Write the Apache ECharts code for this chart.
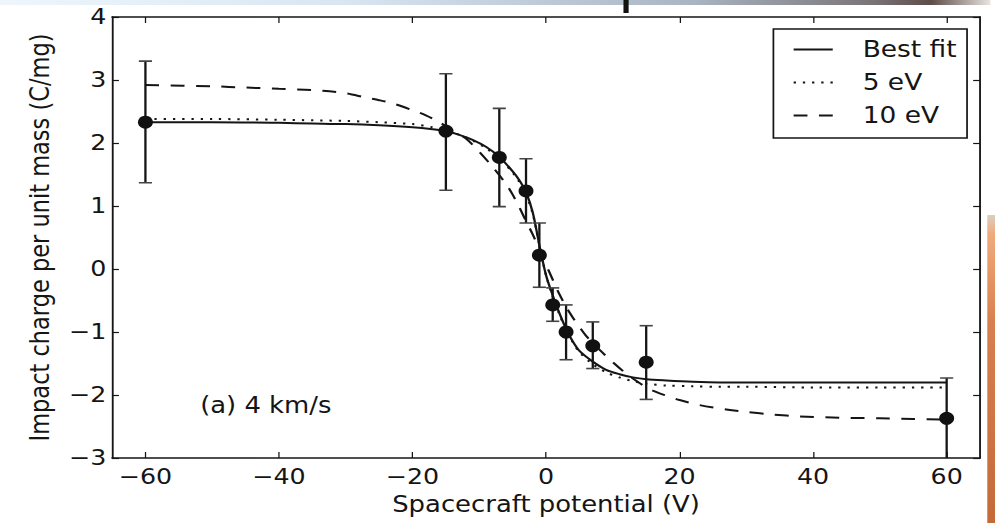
<!DOCTYPE html>
<html><head><meta charset="utf-8">
<script src="https://cdn.jsdelivr.net/npm/echarts@6/dist/echarts.min.js"></script>
<style>
html,body{margin:0;padding:0;background:#fff;overflow:hidden}
#wrap{width:995px;height:523px;overflow:hidden}
#c{width:865px;height:523px;transform:scaleX(1.15029);transform-origin:0 0}
</style>
</head><body><div id="wrap"><div id="c"></div></div>
<script>
// tick labels
const xTicks = [-60, -40, -20, 0, 20, 40, 60];
const yTicks = [-3, -2, -1, 0, 1, 2, 3, 4];
// measured points with error bars
const pointX = [-60, -15, -7, -3, -1, 1, 3, 7, 15, 60];
const pointY = [2.33, 2.19, 1.77, 1.24, 0.22, -0.57, -1.0, -1.22, -1.48, -2.37];
const errLow = [1.37, 1.25, 0.99, 0.73, -0.29, -0.83, -1.44, -1.58, -2.07, -3.3];
const errHigh = [3.30, 3.10, 2.55, 1.75, 0.73, -0.30, -0.57, -0.84, -0.90, -1.73];
// Best fit curve
const fitX = [-60,-50,-40,-35,-30,-25,-20,-17,-15,-13,-11,-9,-7,-5,-4,-3,-2,-1,0,1,2,3,4,5,7,9,11,13,15,18,22,26,30,40,50,60];
const fitY = [2.33,2.33,2.32,2.31,2.30,2.28,2.25,2.22,2.19,2.13,2.05,1.94,1.78,1.55,1.41,1.22,0.90,0.38,-0.10,-0.42,-0.70,-0.95,-1.15,-1.30,-1.47,-1.60,-1.67,-1.72,-1.75,-1.77,-1.79,-1.80,-1.80,-1.80,-1.80,-1.80];
// 5 eV curve
const ev5X = [-60,-50,-40,-35,-30,-25,-20,-17,-15,-13,-11,-9,-7,-5,-4,-3,-2,-1,0,1,2,3,4,5,7,9,11,13,15,18,22,26,30,40,50,60];
const ev5Y = [2.38,2.38,2.37,2.36,2.35,2.33,2.30,2.25,2.20,2.13,2.04,1.92,1.76,1.53,1.38,1.18,0.88,0.38,-0.10,-0.43,-0.72,-0.96,-1.16,-1.32,-1.51,-1.64,-1.72,-1.78,-1.82,-1.85,-1.86,-1.87,-1.87,-1.88,-1.88,-1.88];
// 10 eV curve
const ev10X = [-60,-50,-45,-40,-35,-30,-27,-25,-23,-20,-18,-16,-14,-12,-10,-8,-6,-5,-4,-3,-2,-1,0,1,2,3,4,5,6,8,10,12,14,16,18,20,23,27,30,34,38,44,50,55,60];
const ev10Y = [2.92,2.90,2.88,2.86,2.84,2.79,2.72,2.68,2.63,2.52,2.44,2.33,2.20,2.07,1.86,1.62,1.35,1.18,0.98,0.76,0.55,0.31,0.07,-0.17,-0.40,-0.60,-0.77,-0.92,-1.06,-1.28,-1.48,-1.66,-1.81,-1.93,-2.01,-2.08,-2.16,-2.23,-2.27,-2.31,-2.34,-2.36,-2.37,-2.38,-2.39];

const FONT = 'DejaVu Sans';
const INK = '#151515';
const minus = v => String(v).replace('-', '\u2212');
const zip = (a, b) => a.map((v, i) => [v, b[i]]);

const chart = echarts.init(document.getElementById('c'), null, {renderer: 'svg'});

const baseX = {
  type: 'value', min: -65, max: 65,
  axisLine: {show: true, onZero: false, lineStyle: {color: INK, width: 1.6}},
  axisTick: {show: true, inside: true, length: 6, customValues: xTicks, lineStyle: {color: INK, width: 1.1}},
  splitLine: {show: false}
};
const baseY = {
  type: 'value', min: -3, max: 4, interval: 1,
  axisLine: {show: true, onZero: false, lineStyle: {color: INK, width: 1.6}},
  axisTick: {show: true, inside: true, length: 6, lineStyle: {color: INK, width: 1.2}},
  splitLine: {show: false}
};

chart.setOption({
  animation: false,
  backgroundColor: '#ffffff',
  textStyle: {fontFamily: FONT},
  grid: {left: 97.4, right: 13, top: 17, bottom: 65},
  xAxis: [
    Object.assign({}, baseX, {
      position: 'bottom',
      name: 'Spacecraft potential (V)', nameLocation: 'middle', nameGap: 35,
      nameTextStyle: {fontFamily: FONT, fontSize: 22.5, color: INK},
      axisLabel: {show: true, customValues: xTicks, formatter: minus, margin: 8,
        fontFamily: FONT, fontSize: 22, color: INK}
    }),
    Object.assign({}, baseX, {position: 'top', axisLabel: {show: false}})
  ],
  yAxis: [
    Object.assign({}, baseY, {
      position: 'left',
      name: 'Impact charge per unit mass (C/mg)', nameLocation: 'middle', nameGap: 51,
      nameTextStyle: {fontFamily: FONT, fontSize: 22.5, color: INK},
      axisLabel: {show: true, formatter: minus, margin: 5,
        fontFamily: FONT, fontSize: 22, color: INK}
    }),
    Object.assign({}, baseY, {position: 'right', axisLabel: {show: false}})
  ],
  legend: {
    orient: 'vertical', right: 24.3, top: 29,
    data: ['Best fit', '5 eV', '10 eV'],
    itemWidth: 34, itemHeight: 14, itemGap: 10,
    padding: [9, 9, 11, 16.6],
    borderColor: INK, borderWidth: 1.5, borderRadius: 0,
    backgroundColor: '#fff',
    itemStyle: {color: 'transparent', borderWidth: 0, opacity: 0},
    textStyle: {fontFamily: FONT, fontSize: 23, color: INK, padding: [0, 0, 0, 21]}
  },
  graphic: [
    {type: 'text', left: 174, top: 394, style: {text: '(a) 4 km/s', font: '22.5px "DejaVu Sans"', fill: INK}},
    {type: 'rect', shape: {x: 0, y: 0, width: 861, height: 5}, silent: true,
      style: {fill: new echarts.graphic.LinearGradient(0, 0, 1, 0, [
        {offset: 0, color: '#eef6fc'}, {offset: 0.35, color: '#d8e6f2'},
        {offset: 0.7, color: '#a9b5c2'}, {offset: 0.88, color: '#7a7478'},
        {offset: 0.94, color: '#5d4c48'}, {offset: 1, color: '#e8e4e0'}])}},
    {type: 'rect', shape: {x: 542, y: 0, width: 4.5, height: 13}, silent: true, style: {fill: '#111'}},
    {type: 'rect', shape: {x: 858.3, y: 215, width: 7, height: 308}, silent: true,
      style: {fill: new echarts.graphic.LinearGradient(0, 0, 0, 1, [
        {offset: 0, color: '#d9d0c2'}, {offset: 0.06, color: '#f0aa7c'},
        {offset: 0.35, color: '#d8804c'}, {offset: 1, color: '#c46a3a'}])}}
  ],
  series: [
    {name: 'Best fit', type: 'line', data: zip(fitX, fitY), smooth: 0.3, symbol: 'none',
      lineStyle: {color: INK, width: 2}, itemStyle: {color: INK}, z: 2},
    {name: '5 eV', type: 'line', data: zip(ev5X, ev5Y), smooth: 0.3, symbol: 'none',
      lineStyle: {color: INK, width: 2, type: [2, 6]}, itemStyle: {color: INK}, z: 2},
    {name: '10 eV', type: 'line', data: zip(ev10X, ev10Y), smooth: 0.3, symbol: 'none',
      lineStyle: {color: INK, width: 2, type: [12, 10]}, itemStyle: {color: INK}, z: 2},
    {name: 'err', type: 'custom', clip: true, z: 3,
      data: pointX.map((x, i) => [x, errLow[i], errHigh[i]]),
      encode: {x: 0, y: [1, 2]},
      renderItem: function (params, api) {
        const x = api.value(0);
        const p1 = api.coord([x, api.value(1)]);
        const p2 = api.coord([x, api.value(2)]);
        const cw = 5.7;
        return {type: 'group', children: [
          {type: 'line', shape: {x1: p1[0], y1: p1[1], x2: p2[0], y2: p2[1]}, style: {stroke: INK, lineWidth: 2}},
          {type: 'line', shape: {x1: p1[0] - cw, y1: p1[1], x2: p1[0] + cw, y2: p1[1]}, style: {stroke: '#444', lineWidth: 1.6}},
          {type: 'line', shape: {x1: p2[0] - cw, y1: p2[1], x2: p2[0] + cw, y2: p2[1]}, style: {stroke: '#444', lineWidth: 1.6}}
        ]};
      }},
    {name: 'points', type: 'scatter', data: zip(pointX, pointY), symbol: 'circle', symbolSize: 13,
      itemStyle: {color: '#111', opacity: 1}, z: 4}
  ]
});
</script>
</body></html>
